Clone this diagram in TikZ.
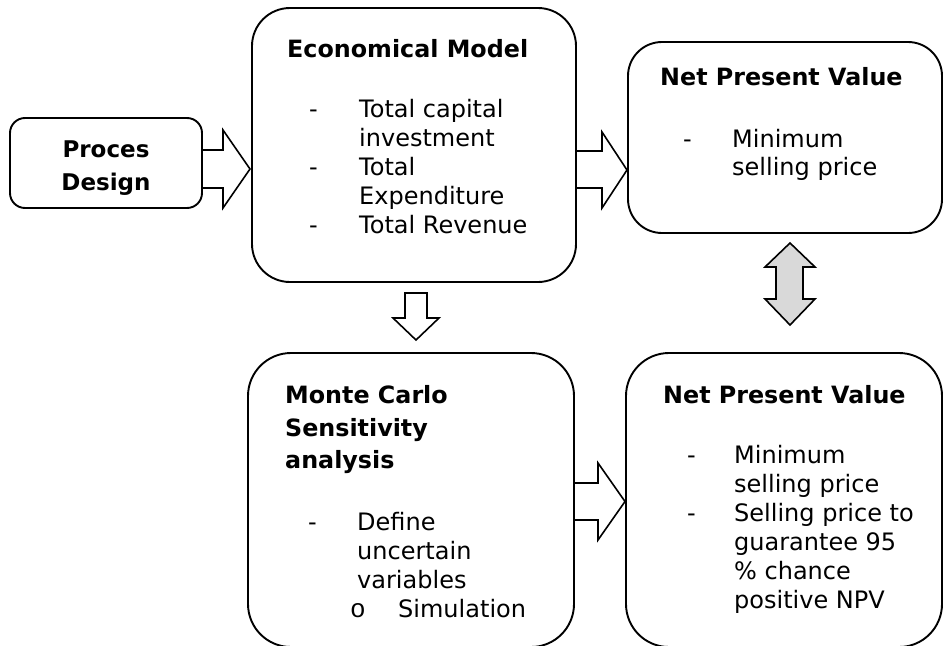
\documentclass[tikz,border=0pt]{standalone}
\usepackage{fontspec}
\setmainfont{DejaVu Sans}
\newfontfamily\bulletfont{Liberation Mono}
\definecolor{arrowgray}{HTML}{D9D9D9}
\tikzset{
  box/.style={draw, line width=1.9pt, rounded corners=#1, inner sep=0pt, outer sep=0pt},
  blockarrow/.style={draw, line width=1.6pt, fill=white, line join=miter},
  grayarrow/.style={blockarrow, fill=arrowgray},
  title/.style={anchor=base west, inner sep=0pt, font=\fontsize{23.8}{29}\selectfont\bfseries},
  body/.style={anchor=base west, inner sep=0pt, font=\fontsize{24}{29}\selectfont},
  bullet/.style={anchor=base west, inner sep=0pt, font=\fontsize{26}{29}\selectfont\bulletfont},
}
\begin{document}
\begin{tikzpicture}[x=1pt, y=-1pt]
\useasboundingbox (0,0) rectangle (944,645);

% ---- boxes ----
\node[box=15pt, minimum width=192pt, minimum height=90pt]  (pd)   at (106,163)   {};
\node[box=38pt, minimum width=324pt, minimum height=274pt] (eco)  at (414,145)   {};
\node[box=34pt, minimum width=314pt, minimum height=191pt] (npv1) at (785,137.5) {};
\node[box=43pt, minimum width=326pt, minimum height=294pt] (mc)   at (411,500)   {};
\node[box=43pt, minimum width=316pt, minimum height=294pt] (npv2) at (784,500)   {};

% ---- Proces Design ----
\node[title, anchor=base, font=\fontsize{23}{29}\selectfont\bfseries] (pd-t1) at (106,157) {Proces};
\node[title, anchor=base, font=\fontsize{23}{29}\selectfont\bfseries] (pd-t2) at (106,190) {Design};

% ---- Economical Model ----
\node[title] (eco-t) at (287,57) {Economical Model};
\node[body] (eco-d1) at (309,117) {-};
\node[body] (eco-a1) at (359,117) {Total capital};
\node[body] (eco-a2) at (359,146) {investment};
\node[body] (eco-d2) at (309,175) {-};
\node[body] (eco-b1) at (359,175) {Total};
\node[body] (eco-b2) at (359,204) {Expenditure};
\node[body] (eco-d3) at (309,233) {-};
\node[body] (eco-c1) at (359,233) {Total Revenue};

% ---- Net Present Value (top) ----
\node[title] (npv1-t) at (660,85) {Net Present Value};
\node[body] (npv1-d1) at (683,147) {-};
\node[body] (npv1-a1) at (732,147) {Minimum};
\node[body] (npv1-a2) at (732,175) {selling price};

% ---- Monte Carlo ----
\node[title] (mc-t1) at (285,403) {Monte Carlo};
\node[title] (mc-t2) at (285,436) {Sensitivity};
\node[title] (mc-t3) at (285,468) {analysis};
\node[body] (mc-d1) at (308,530) {-};
\node[body] (mc-a1) at (357,530) {Define};
\node[body] (mc-a2) at (357,559) {uncertain};
\node[body] (mc-a3) at (357,588) {variables};
\node[bullet] (mc-o1) at (350,617) {o};
\node[body] (mc-s1) at (398,617) {Simulation};

% ---- Net Present Value (bottom) ----
\node[title] (npv2-t) at (663,403) {Net Present Value};
\node[body] (npv2-d1) at (687,463) {-};
\node[body] (npv2-a1) at (734,463) {Minimum};
\node[body] (npv2-a2) at (734,492) {selling price};
\node[body] (npv2-d2) at (687,521) {-};
\node[body] (npv2-b1) at (734,521) {Selling price to};
\node[body] (npv2-b2) at (734,550) {guarantee 95};
\node[body] (npv2-b3) at (734,579) {\% chance};
\node[body] (npv2-b4) at (734,608) {positive NPV};

% ---- block arrows ----
% Proces Design -> Economical Model
\draw[blockarrow, shift={(pd.east)}]
  (0,-13) -- (21,-13) -- (21,-33) -- (48,6) -- (21,45) -- (21,25) -- (0,25) -- cycle;
% Economical Model -> Net Present Value
\draw[blockarrow, shift={(eco.east)}]
  (0,6) -- (26,6) -- (26,-13) -- (51,25) -- (26,63) -- (26,43) -- (0,43) -- cycle;
% Economical Model -> Monte Carlo
\draw[blockarrow, shift={(eco.south)}]
  (-9,11) -- (13,11) -- (13,36) -- (25,36) -- (2,58) -- (-21,36) -- (-9,36) -- cycle;
% Monte Carlo -> Net Present Value
\draw[blockarrow, shift={(mc.east)}]
  (0,-17) -- (24,-17) -- (24,-37) -- (51,1.5) -- (24,40) -- (24,20) -- (0,20) -- cycle;
% Net Present Value <-> Net Present Value
\draw[grayarrow, shift={(npv1.south)}]
  (5,10) -- (30,34) -- (18,34) -- (18,66) -- (30,66) -- (5,92)
  -- (-20,66) -- (-9,66) -- (-9,34) -- (-20,34) -- cycle;
\end{tikzpicture}
\end{document}
